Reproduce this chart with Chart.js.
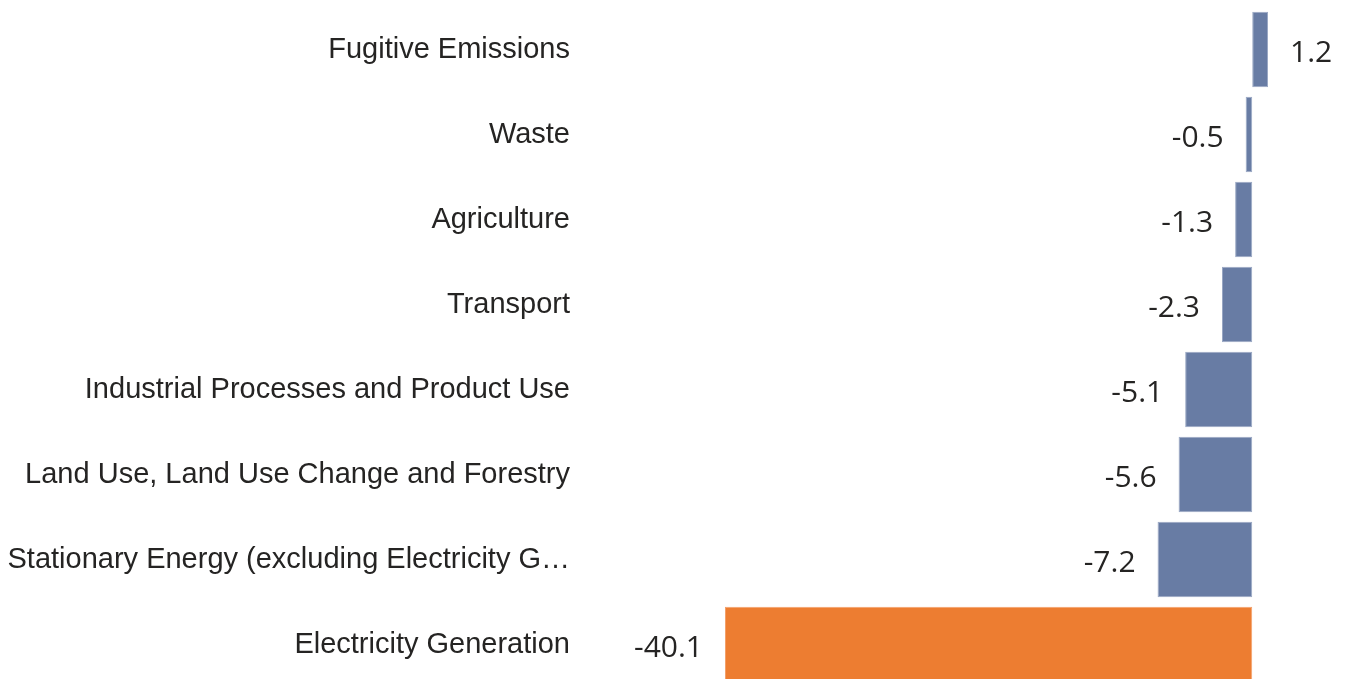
<!DOCTYPE html>
<html>
<head>
<meta charset="utf-8">
<script src="https://cdn.jsdelivr.net/npm/chart.js@4/dist/chart.umd.min.js"></script>
<style>
  html, body { margin: 0; padding: 0; background: #ffffff; overflow: hidden; }
  .chart-wrap { position: absolute; left: 0; top: 0; width: 1347px; height: 688px; }
</style>
</head>
<body>
<div class="chart-wrap"><canvas id="sectorChart"></canvas></div>
<script>
// Change in emissions by sector
const sectors = [
  'Fugitive Emissions',
  'Waste',
  'Agriculture',
  'Transport',
  'Industrial Processes and Product Use',
  'Land Use, Land Use Change and Forestry',
  'Stationary Energy (excluding Electricity G\u2026',
  'Electricity Generation'
];
const changes = [1.2, -0.5, -1.3, -2.3, -5.1, -5.6, -7.2, -40.1];
const highlighted = ['Electricity Generation'];

const BLUE = '#687ca4';
const ORANGE = '#ed7d31';

// value labels at the outside end of each bar
const valueLabels = {
  id: 'valueLabels',
  afterDatasetsDraw(chart) {
    const ctx = chart.ctx;
    const meta = chart.getDatasetMeta(0);
    ctx.save();
    ctx.font = '30px "Open Sans", sans-serif';
    ctx.fillStyle = '#252423';
    ctx.textBaseline = 'middle';
    meta.data.forEach((bar, i) => {
      const v = changes[i];
      if (v < 0) {
        ctx.textAlign = 'right';
        ctx.fillText(v.toFixed(1), bar.x - 22, bar.y + 4);
      } else {
        ctx.textAlign = 'left';
        ctx.fillText(v.toFixed(1), bar.x + 22, bar.y + 4);
      }
    });
    ctx.restore();
  }
};

document.addEventListener('DOMContentLoaded', function() {
  const ctx = document.getElementById('sectorChart');

  new Chart(ctx, {
    type: 'bar',
    data: {
      labels: sectors,
      datasets: [{
        data: changes,
        backgroundColor: sectors.map(s => highlighted.includes(s) ? ORANGE : BLUE),
        borderColor: sectors.map(s => highlighted.includes(s) ? '#f3a06a' : '#9aa8c4'),
        borderWidth: 1,
        borderSkipped: false,
        categoryPercentage: 1,
        barPercentage: 0.89,
      }]
    },
    options: {
      indexAxis: 'y',
      responsive: true,
      maintainAspectRatio: false,
      animation: false,
      layout: {
        padding: { top: 7, bottom: 1, left: 0, right: 79 }
      },
      plugins: {
        legend: { display: false },
        tooltip: { enabled: false },
      },
      scales: {
        x: {
          display: false,
          min: -40.1,
          max: 1.2,
        },
        y: {
          border: { display: false },
          grid: { display: false, drawTicks: false },
          ticks: {
            color: '#252423',
            padding: 155,
            font: { family: '"Liberation Sans", Arial, sans-serif', size: 29 },
          },
          afterFit: function(scale) {
            // fixed axis width; the tick padding is only wanted sideways
            scale.width = 725;
            scale.paddingTop = 0;
            scale.paddingBottom = 0;
          }
        }
      }
    },
    plugins: [valueLabels]
  });
});
</script>
</body>
</html>
